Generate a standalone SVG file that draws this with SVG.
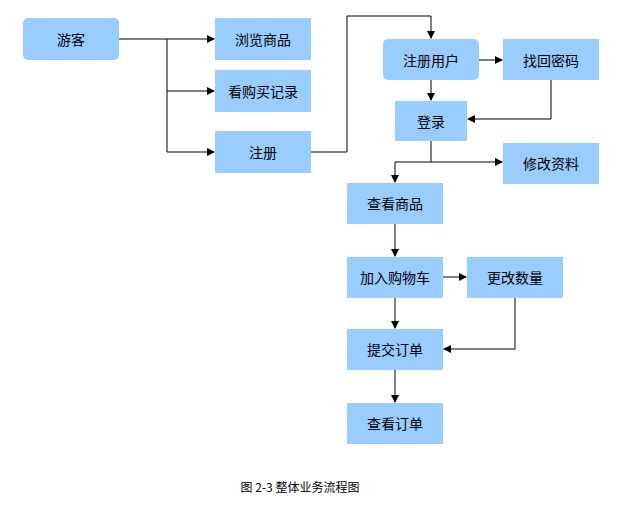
<svg xmlns="http://www.w3.org/2000/svg" width="629" height="529" viewBox="0 0 629 529">
<style>
.n{fill:#99ccff;stroke:none}
.t{font-family:"Noto Sans CJK SC","Liberation Sans",sans-serif;font-size:14px;fill:#000;text-anchor:middle;dominant-baseline:central}
.c{fill:none;stroke:#000;stroke-width:1;marker-end:url(#a)}
</style>
<defs><marker id="a" markerWidth="8" markerHeight="8" refX="7" refY="4" orient="auto" markerUnits="userSpaceOnUse"><path d="M0,0L8,4L0,8z" fill="#000"/></marker></defs>
<rect width="629" height="529" fill="#fff"/>
<g id="connectors">
<path class="c" d="M119,39H214"/>
<path class="c" d="M167,39V91H214"/>
<path class="c" d="M167,91V152H214"/>
<path class="c" d="M311,152H347V16H431V38"/>
<path class="c" d="M479,60H502"/>
<path class="c" d="M431,80V100"/>
<path class="c" d="M551,80V119H468"/>
<path class="c" d="M431,141V162H502"/>
<path class="c" d="M431,162H395V182"/>
<path class="c" d="M395,224V256"/>
<path class="c" d="M443,277H466"/>
<path class="c" d="M395,298V328"/>
<path class="c" d="M515,298V349H444"/>
<path class="c" d="M395,370V402"/>
</g>
<g id="n1"><rect class="n" x="23" y="18" width="96" height="42" rx="5"/><text class="t" x="71" y="39">游客</text></g>
<g id="n2"><rect class="n" x="215" y="18" width="96" height="42"/><text class="t" x="263" y="39">浏览商品</text></g>
<g id="n3"><rect class="n" x="215" y="70" width="96" height="42"/><text class="t" x="263" y="91">看购买记录</text></g>
<g id="n4"><rect class="n" x="215" y="131" width="96" height="42"/><text class="t" x="263" y="152">注册</text></g>
<g id="n5"><rect class="n" x="383" y="39" width="96" height="41" rx="5"/><text class="t" x="431" y="60">注册用户</text></g>
<g id="n6"><rect class="n" x="503" y="39" width="96" height="41"/><text class="t" x="551" y="60">找回密码</text></g>
<g id="n7"><rect class="n" x="395" y="101" width="72" height="40"/><text class="t" x="431" y="121">登录</text></g>
<g id="n8"><rect class="n" x="503" y="143" width="96" height="41"/><text class="t" x="551" y="163">修改资料</text></g>
<g id="n9"><rect class="n" x="347" y="183" width="96" height="41"/><text class="t" x="395" y="203">查看商品</text></g>
<g id="n10"><rect class="n" x="347" y="257" width="96" height="41"/><text class="t" x="395" y="277">加入购物车</text></g>
<g id="n11"><rect class="n" x="467" y="257" width="96" height="41"/><text class="t" x="515" y="277">更改数量</text></g>
<g id="n12"><rect class="n" x="347" y="329" width="96" height="41"/><text class="t" x="395" y="349">提交订单</text></g>
<g id="n13"><rect class="n" x="347" y="403" width="96" height="41"/><text class="t" x="395" y="423">查看订单</text></g>
<text x="300" y="486" style="font-family:'Noto Sans CJK SC','Liberation Mono',monospace;font-size:12px;text-anchor:middle;dominant-baseline:central">图 2-3 整体业务流程图</text>
</svg>
